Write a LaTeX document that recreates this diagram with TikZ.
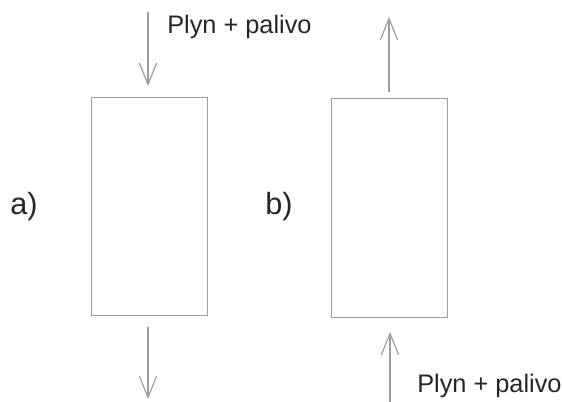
\documentclass[tikz,border=0pt]{standalone}
\usepackage{fontspec}
\setmainfont{Liberation Sans}
\usetikzlibrary{arrows.meta}
\begin{document}
\begin{tikzpicture}[x=0.75pt,y=-0.75pt,
  box/.style={draw=black!38,line width=0.9pt},
  flow/.style={draw=black!38,line width=0.9pt,-{Straight Barb[length=16pt,width=13pt,line width=0.9pt]}},
  lbl/.style={anchor=base west,inner sep=0pt,text=black!85,font=\fontsize{19}{22}\selectfont},
  tag/.style={anchor=base west,inner sep=0pt,text=black!85,font=\fontsize{23}{27}\selectfont}]
\useasboundingbox (0,0) rectangle (562,402);
\node[box,minimum width=116*0.75pt,minimum height=218*0.75pt,anchor=north west] (ra) at (91,97) {};
\node[box,minimum width=116*0.75pt,minimum height=219*0.75pt,anchor=north west] (rb) at (331,98) {};
\coordinate (a1) at (148,12);
\coordinate (a2) at (148,86);
\coordinate (a3) at (148,327);
\coordinate (a4) at (148,399);
\coordinate (b1) at (389,92);
\coordinate (b2) at (389,17);
\coordinate (b3) at (390,402);
\coordinate (b4) at (390,332);
\draw[flow] (a1) -- (a2);
\draw[flow] (a3) -- (a4);
\draw[flow] (b1) -- (b2);
\draw[flow] (b3) -- (b4);
\node[lbl] (t1) at (167,34) {Plyn + palivo};
\node[lbl] (t2) at (417,393) {Plyn + palivo};
\node[tag] (ta) at (10,215) {a)};
\node[tag] (tb) at (265,215) {b)};
\end{tikzpicture}
\end{document}
